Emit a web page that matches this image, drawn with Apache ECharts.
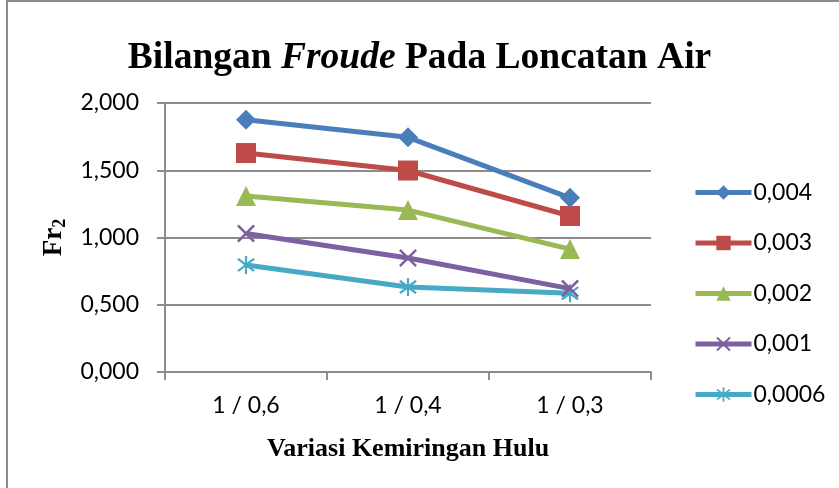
<!DOCTYPE html>
<html>
<head>
<meta charset="utf-8">
<script src="https://cdn.jsdelivr.net/npm/echarts@6/dist/echarts.min.js"></script>
<style>
  html, body { margin: 0; padding: 0; background: #fff; }
  #chart { width: 839px; height: 488px; }
</style>
</head>
<body>
<div id="chart"></div>
<script>
// kategori kemiringan hulu
const categories = ["1 / 0,6", "1 / 0,4", "1 / 0,3"];
const seriesNames = ["0,004", "0,003", "0,002", "0,001", "0,0006"];
// nilai Fr2
const fr004 = [1.875, 1.745, 1.295];
const fr003 = [1.628, 1.498, 1.160];
const fr002 = [1.309, 1.204, 0.914];
const fr001 = [1.030, 0.848, 0.620];
const fr0006 = [0.796, 0.632, 0.585];
const yTicks = [0, 0.5, 1, 1.5, 2];

const colors = ["#4A7EBB", "#BE4B48", "#98B954", "#7D60A0", "#46AAC5"];
const symbols = [
  "diamond",
  "rect",
  "triangle",
  "path://M1,0L5,4L9,0L10,1L6,5L10,9L9,10L5,6L1,10L0,9L4,5L0,1Z",
  "path://M1,0L5,4L9,0L10,1L6,5L10,9L9,10L5,6L1,10L0,9L4,5L0,1ZM4.4,-1.5L5.6,-1.5L5.6,11.5L4.4,11.5Z"
];
const sizes = [20, 20, 20, 18, 18];
const allData = [fr004, fr003, fr002, fr001, fr0006];

let chart = echarts.init(document.getElementById("chart"), null, { renderer: "canvas" });

const series = allData.map((d, i) => ({
  name: seriesNames[i],
  type: "line",
  data: d,
  symbol: symbols[i],
  symbolSize: sizes[i],
  lineStyle: { color: colors[i], width: 5 },
  itemStyle: { color: colors[i], borderWidth: 0 },
  z: 10 - i
}));

const labelFont = "Lato";

const option = {
  animation: false,
  color: colors,
  graphic: [
    {
      type: "rect",
      shape: { x: 7, y: 1, width: 900, height: 600 },
      style: { fill: "none", stroke: "#8c8c8c", lineWidth: 2 },
      silent: true
    }
  ],
  title: {
    left: "center",
    top: 34,
    text: "{b|Bilangan }{i|Froude}{b| Pada Loncatan Air}",
    textStyle: {
      rich: {
        b: { fontFamily: "Liberation Serif", fontWeight: "bold", fontSize: 37.5, color: "#000" },
        i: { fontFamily: "Liberation Serif", fontWeight: "bold", fontStyle: "italic", fontSize: 37.5, color: "#000" }
      }
    }
  },
  legend: {
    orient: "vertical",
    left: 688,
    top: 176,
    itemGap: 27.5,
    itemWidth: 56,
    itemHeight: 18,
    lineStyle: { width: 5 },
    textStyle: { fontFamily: labelFont, fontSize: 23, color: "#000", padding: [0, 0, 0, -3] },
    data: seriesNames
  },
  grid: { left: 165, top: 103, width: 486, height: 269 },
  xAxis: {
    type: "category",
    data: categories,
    boundaryGap: true,
    name: "Variasi Kemiringan Hulu",
    nameLocation: "middle",
    nameGap: 64,
    nameTextStyle: { fontFamily: "Liberation Serif", fontWeight: "bold", fontSize: 26, color: "#000" },
    axisLine: { lineStyle: { color: "#8c8c8c", width: 2 } },
    axisTick: { show: true, length: 8, lineStyle: { color: "#8c8c8c", width: 2 } },
    axisLabel: { fontFamily: labelFont, fontSize: 23, color: "#000", margin: 22 }
  },
  yAxis: {
    type: "value",
    min: 0,
    max: 2,
    interval: 0.5,
    name: "{a|Fr}{s|2}",
    nameLocation: "middle",
    nameRotate: 90,
    nameGap: 96,
    nameTextStyle: {
      rich: {
        a: { fontFamily: "Liberation Serif", fontWeight: "bold", fontSize: 27, color: "#000" },
        s: { fontFamily: "Liberation Serif", fontWeight: "bold", fontSize: 18, color: "#000", verticalAlign: "bottom", padding: [12, 0, 0, 0] }
      }
    },
    axisLine: { show: true, lineStyle: { color: "#8c8c8c", width: 2 } },
    axisTick: { show: true, length: 8, lineStyle: { color: "#8c8c8c", width: 2 } },
    splitLine: { lineStyle: { color: "#8c8c8c", width: 2 } },
    axisLabel: {
      fontFamily: labelFont,
      fontSize: 23,
      color: "#000",
      margin: 26,
      formatter: v => yTicks.indexOf(v) >= 0 ? v.toFixed(3).replace(".", ",") : ""
    }
  },
  series: series
};

chart.setOption(option);
</script>
</body>
</html>
